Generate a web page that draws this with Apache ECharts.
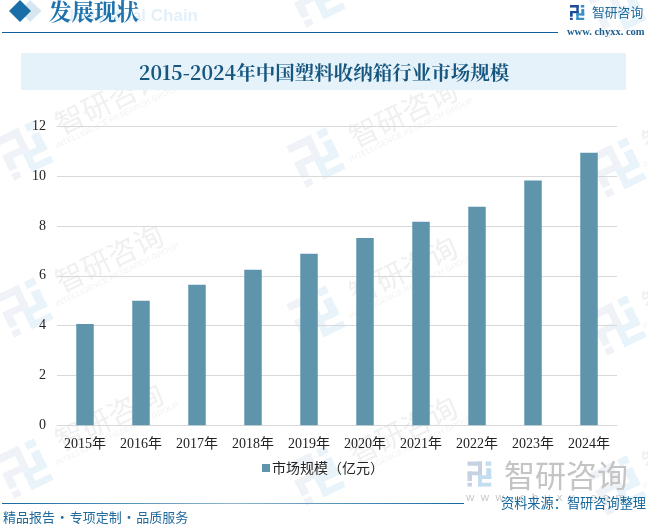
<!DOCTYPE html>
<html>
<head>
<meta charset="utf-8">
<style>
html, body { margin: 0; padding: 0; background: #fff; }
#chart { width: 648px; height: 525px; }
</style>
<script src="https://cdn.jsdelivr.net/npm/echarts@6/dist/echarts.min.js"></script>
</head>
<body>
<div id="chart"></div>
<script>
// 数据
var years = ['2015年', '2016年', '2017年', '2018年', '2019年', '2020年', '2021年', '2022年', '2023年', '2024年'];
var marketSize = [4.07, 5.0, 5.64, 6.24, 6.88, 7.52, 8.17, 8.77, 9.82, 10.94];
var seriesName = '市场规模（亿元）';
var chartTitle = '2015-2024年中国塑料收纳箱行业市场规模';

var SERIF = '"Noto Serif CJK SC", "Liberation Serif", "Noto Sans CJK SC", serif';
var SONG = '"Liberation Serif", "Noto Sans CJK SC", serif';
var SANS = '"Noto Sans CJK SC", sans-serif';

// 水印位置
var wmPlaces = [[109, 100], [403, 113], [696, 119], [109, 258], [403, 270], [696, 280], [109, 417], [403, 430], [696, 440]];
var logoPlaces = [[317, -3], [618, 8], [25, 150], [317, 157], [618, 167], [25, 307], [317, 315], [618, 325], [25, 468], [317, 475], [618, 485]];

// 公司logo，左右两部分颜色不同
var LOGO_LEFT = [[0, 0, .58, .17], [.42, 0, .16, .55], [0, .4, .58, .15], [0, .4, .18, .38], [0, .85, .18, .15]];
var LOGO_RIGHT = [[.72, 0, .23, .17], [.75, .27, .2, .43], [.42, .55, .53, .15], [.42, .55, .16, .45], [.42, .85, .53, .15]];

function logo(x, y, size, leftFill, rightFill, rotation) {
	var children = [];
	function add(parts, fill) {
		parts.forEach(function (p) {
			children.push({
				type: 'rect',
				shape: { x: (p[0] - .5) * size, y: (p[1] - .5) * size, width: p[2] * size, height: p[3] * size },
				style: { fill: fill }
			});
		});
	}
	add(LOGO_LEFT, leftFill);
	add(LOGO_RIGHT, rightFill);
	return { type: 'group', x: x, y: y, rotation: rotation, silent: true, children: children };
}

var graphics = [];
logoPlaces.forEach(function (p) {
	graphics.push(logo(p[0], p[1], 46, '#eff2f7', '#e9f4fa', 0.45));
});
wmPlaces.forEach(function (p) {
	graphics.push({
		type: 'group', x: p[0], y: p[1], rotation: 0.45, silent: true,
		children: [
			{ type: 'text', style: { x: 0, y: 0, text: '智研咨询', fill: '#f0f0f0', font: '29px ' + SANS, align: 'center', verticalAlign: 'middle' } },
			{ type: 'text', style: { x: 0, y: 19, text: 'INTELLIGENCE RESEARCH GROUP', fill: '#f2f2f2', font: '8px "Liberation Sans"', align: 'center', verticalAlign: 'middle' } }
		]
	});
});

// 页眉
graphics.push(
	{ type: 'polygon', shape: { points: [[30, 0], [41.5, 11], [30, 22], [20, 11]] }, style: { fill: '#d7e6f0' } },
	{ type: 'polygon', shape: { points: [[20, 0], [31, 11], [20, 22], [9, 11]] }, style: { fill: '#1a6ea8' } },
	{ type: 'text', style: { x: 198, y: 16, text: 'Industrial Chain', fill: '#e4f0f9', font: 'bold 17px "Liberation Sans"', align: 'right', verticalAlign: 'middle' } },
	{ type: 'text', style: { x: 49, y: 11, text: '发展现状', fill: '#1f73ad', font: 'bold 22.5px ' + SERIF, verticalAlign: 'middle' } },
	{ type: 'line', shape: { x1: 2, y1: 32.5, x2: 558, y2: 32.5 }, style: { stroke: '#0f6299', lineWidth: 1 } },
	logo(577.5, 12.5, 15, '#1d4d94', '#3a8ec8', 0),
	{ type: 'text', style: { x: 592, y: 12, text: '智研咨询', fill: '#1f6a9c', font: '12.8px ' + SANS, verticalAlign: 'middle' } },
	{ type: 'text', style: { x: 567, y: 32, text: 'www. chyxx. com', fill: '#1f5f8f', font: 'bold 10.5px "Liberation Serif"', verticalAlign: 'middle' } },
	// 标题条
	{ type: 'rect', shape: { x: 21, y: 53, width: 605, height: 37 }, style: { fill: '#e6f2fa' } },
	{ type: 'text', style: { x: 324, y: 73, text: chartTitle, fill: '#17577f', font: 'bold 19.5px ' + SERIF, align: 'center', verticalAlign: 'middle' } },
	// 页脚
	{
		type: 'line',
		shape: { x1: 2, y1: 503.5, x2: 464, y2: 503.5 },
		style: {
			lineWidth: 1.2,
			stroke: new echarts.graphic.LinearGradient(0, 0, 1, 0, [
				{ offset: 0, color: '#14689f' },
				{ offset: 0.5, color: '#8fb6d0' },
				{ offset: 1, color: '#14689f' }
			], false)
		}
	},
	{ type: 'text', style: { x: 3, y: 517, text: '精品报告\u200a·\u200a专项定制\u200a·\u200a品质服务', fill: '#1f6a9c', font: '13px ' + SANS, verticalAlign: 'middle' } },
	logo(480, 474, 25, '#c6d1e3', '#c3ddf0', 0),
	{ type: 'text', style: { x: 504, y: 475, text: '智研咨询', fill: '#c4c4c4', font: '31px ' + SANS, verticalAlign: 'middle' } },
	{ type: 'text', style: { x: 466, y: 498, text: 'w  w  w  .  c  h  y  x  x  .  c  o  m', fill: '#c9c9c9', font: '11.5px "Liberation Sans"', verticalAlign: 'middle' } },
	{ type: 'text', style: { x: 501, y: 503, text: '资料来源：智研咨询整理', fill: '#16679c', font: '13.2px ' + SANS, verticalAlign: 'middle' } }
);

var myChart = echarts.init(document.getElementById('chart'), null, { renderer: 'canvas' });
myChart.setOption({
	animation: false,
	backgroundColor: '#fff',
	graphic: { elements: graphics },
	grid: { left: 57, right: 31, top: 126.3, bottom: 99.7, containLabel: false },
	legend: {
		data: [seriesName],
		left: 257,
		top: 456,
		itemWidth: 8,
		itemHeight: 8,
		itemGap: 3,
		icon: 'rect',
		textStyle: { color: '#222', fontFamily: SANS, fontSize: 14, padding: [0, 0, 0, -3] }
	},
	xAxis: {
		type: 'category',
		data: years,
		axisLine: { show: true, lineStyle: { color: '#d9d9d9' } },
		axisTick: { show: false },
		axisLabel: { color: '#222', fontFamily: SONG, fontSize: 14, margin: 12, interval: 0 }
	},
	yAxis: {
		type: 'value',
		min: 0,
		max: 12,
		interval: 2,
		axisLine: { show: false },
		axisTick: { show: false },
		axisLabel: { color: '#222', fontFamily: SONG, fontSize: 14, margin: 11, padding: [2, 0, 0, 0] },
		splitLine: { lineStyle: { color: '#d9d9d9' } }
	},
	series: [{
		name: seriesName,
		type: 'bar',
		data: marketSize,
		barWidth: 17.5,
		itemStyle: { color: '#5f94ad' }
	}]
});
</script>
</body>
</html>
